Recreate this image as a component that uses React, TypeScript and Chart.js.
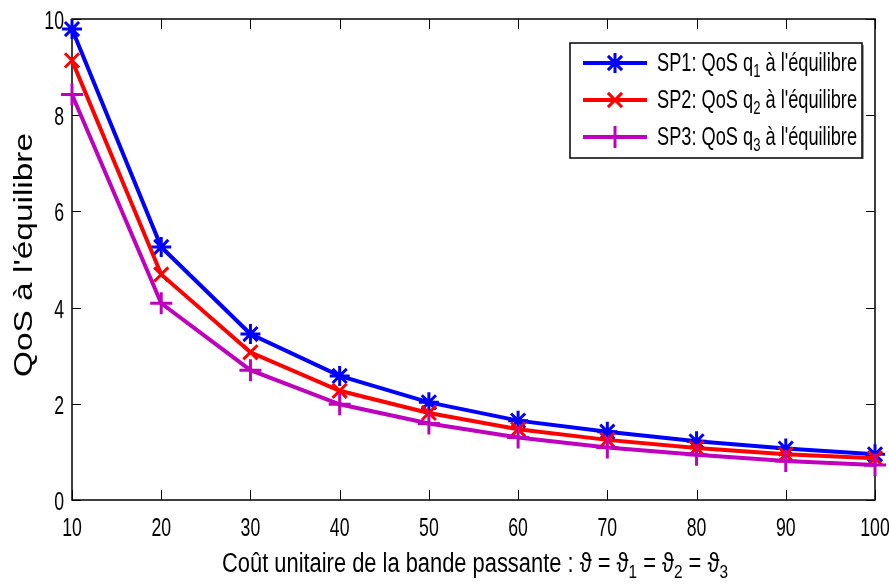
import React, { useEffect, useRef } from "react";
import { Chart, registerables } from "chart.js";

Chart.register(...registerables);

const costs = [10, 20, 30, 40, 50, 60, 70, 80, 90, 100];
const sp1 = [9.79, 5.26, 3.45, 2.58, 2.03, 1.65, 1.42, 1.22, 1.07, 0.95];
const sp2 = [9.14, 4.69, 3.07, 2.27, 1.81, 1.47, 1.25, 1.08, 0.95, 0.87];
const sp3 = [8.43, 4.09, 2.7, 1.99, 1.59, 1.3, 1.09, 0.94, 0.81, 0.73];
const xTicks = [10, 20, 30, 40, 50, 60, 70, 80, 90, 100];
const yTicks = [0, 2, 4, 6, 8, 10];
const seriesNames = ["SP1", "SP2", "SP3"];
const seriesSubs = ["1", "2", "3"];
const colors = ["#0000ff", "#ff0000", "#bf00bf"];
const styles = ["star", "crossRot", "cross"];

const FONT = '"Liberation Sans", Arial, sans-serif';

type Seg = { t: string; sub?: boolean };

function segWidth(ctx: CanvasRenderingContext2D, segs: Seg[], size: number) {
  let w = 0;
  for (const s of segs) {
    ctx.font = `${s.sub ? Math.round(size * 0.72) : size}px ${FONT}`;
    w += ctx.measureText(s.t).width;
  }
  return w;
}

function drawSegs(
  ctx: CanvasRenderingContext2D,
  segs: Seg[],
  x: number,
  y: number,
  size: number,
  sx: number
) {
  ctx.save();
  ctx.translate(x, y);
  ctx.scale(sx, 1);
  ctx.textAlign = "left";
  ctx.textBaseline = "alphabetic";
  let cx = 0;
  for (const s of segs) {
    const fs = s.sub ? Math.round(size * 0.72) : size;
    ctx.font = `${fs}px ${FONT}`;
    ctx.fillText(s.t, cx, s.sub ? size * 0.22 : 0);
    cx += ctx.measureText(s.t).width;
  }
  ctx.restore();
}

function drawMarker(ctx: CanvasRenderingContext2D, style: string, x: number, y: number, r: number) {
  ctx.beginPath();
  if (style === "cross" || style === "star") {
    ctx.moveTo(x - r, y);
    ctx.lineTo(x + r, y);
    ctx.moveTo(x, y - r);
    ctx.lineTo(x, y + r);
  }
  if (style === "crossRot" || style === "star") {
    const d = r * Math.SQRT1_2;
    ctx.moveTo(x - d, y - d);
    ctx.lineTo(x + d, y + d);
    ctx.moveTo(x - d, y + d);
    ctx.lineTo(x + d, y - d);
  }
  ctx.stroke();
}

const decorPlugin = {
  id: "decor",
  beforeDatasetsDraw(chart: any) {
    const ctx: CanvasRenderingContext2D = chart.ctx;
    const { left, right, top, bottom } = chart.chartArea;
    const xs = chart.scales.x;
    const ys = chart.scales.y;
    ctx.save();
    ctx.strokeStyle = "#000";
    ctx.lineWidth = 1.5;
    ctx.strokeRect(left, top, right - left, bottom - top);
    ctx.lineWidth = 1;
    ctx.beginPath();
    for (const v of xTicks) {
      const px = Math.round(xs.getPixelForValue(v)) + 0.5;
      ctx.moveTo(px, bottom);
      ctx.lineTo(px, bottom - 10);
      ctx.moveTo(px, top);
      ctx.lineTo(px, top + 10);
    }
    for (const v of yTicks) {
      const py = Math.round(ys.getPixelForValue(v)) + 0.5;
      ctx.moveTo(left, py);
      ctx.lineTo(left + 9, py);
      ctx.moveTo(right, py);
      ctx.lineTo(right - 9, py);
    }
    ctx.stroke();
    ctx.restore();
  },
  afterDraw(chart: any) {
    const ctx: CanvasRenderingContext2D = chart.ctx;
    const { left } = chart.chartArea;
    const xs = chart.scales.x;
    const ys = chart.scales.y;
    ctx.save();
    ctx.fillStyle = "#000";
    // tick labels
    const tsize = 26;
    const tsx = 0.68;
    ctx.font = `${tsize}px ${FONT}`;
    for (const v of xTicks) {
      const px = xs.getPixelForValue(v);
      ctx.save();
      ctx.translate(px, 536);
      ctx.scale(tsx, 1);
      ctx.textAlign = "center";
      ctx.textBaseline = "alphabetic";
      ctx.fillText(String(v), 0, 0);
      ctx.restore();
    }
    for (const v of yTicks) {
      const py = ys.getPixelForValue(v);
      ctx.save();
      ctx.translate(left - 8, py + 10);
      ctx.scale(tsx, 1);
      ctx.textAlign = "right";
      ctx.textBaseline = "alphabetic";
      ctx.fillText(String(v), 0, 0);
      ctx.restore();
    }
    // x title
    const th = "\u03D1";
    const xt: Seg[] = [
      { t: `Coût unitaire de la bande passante : ${th} = ${th}` },
      { t: "1", sub: true },
      { t: ` = ${th}` },
      { t: "2", sub: true },
      { t: ` = ${th}` },
      { t: "3", sub: true },
    ];
    const xsize = 27;
    const xw = segWidth(ctx, xt, xsize);
    const xsx = 506 / xw;
    drawSegs(ctx, xt, 222, 572, xsize, xsx);
    // y title
    ctx.save();
    ctx.translate(32, 255);
    ctx.rotate(-Math.PI / 2);
    ctx.font = `33px ${FONT}`;
    const yt = "QoS à l'équilibre";
    const yw = ctx.measureText(yt).width;
    ctx.scale(244 / yw, 0.8);
    ctx.textAlign = "center";
    ctx.textBaseline = "alphabetic";
    ctx.fillText(yt, 0, 0);
    ctx.restore();
    // legend
    const bx = 570, by = 43, bw = 292, bh = 115;
    ctx.fillStyle = "#fff";
    ctx.fillRect(bx, by, bw, bh);
    ctx.strokeStyle = "#999";
    ctx.lineWidth = 2;
    ctx.beginPath();
    ctx.moveTo(bx + bw + 1, by + 2);
    ctx.lineTo(bx + bw + 1, by + bh + 1);
    ctx.stroke();
    ctx.strokeStyle = "#000";
    ctx.lineWidth = 1.5;
    ctx.strokeRect(bx, by, bw, bh);
    const rows = [63, 100, 137];
    for (let i = 0; i < 3; i++) {
      const ry = rows[i];
      ctx.strokeStyle = colors[i];
      ctx.lineWidth = 4;
      ctx.beginPath();
      ctx.moveTo(583, ry);
      ctx.lineTo(647, ry);
      ctx.stroke();
      ctx.lineWidth = 3;
      drawMarker(ctx, styles[i], 615, ry, i === 2 ? 11 : 10);
      ctx.fillStyle = "#000";
      const segs: Seg[] = [
        { t: `${seriesNames[i]}: QoS q` },
        { t: seriesSubs[i], sub: true },
        { t: " à l'équilibre" },
      ];
      const lsize = 25;
      const lw = segWidth(ctx, segs, lsize);
      drawSegs(ctx, segs, 657, ry + 8, lsize, 200 / lw);
    }
    ctx.restore();
  },
};

export default function App() {
  const ref = useRef<HTMLCanvasElement | null>(null);
  useEffect(() => {
    if (!ref.current) return;
    const series = [sp1, sp2, sp3];
    const chart = new Chart(ref.current, {
      type: "line",
      data: {
        datasets: series.map((s, i) => ({
          label: `${seriesNames[i]}`,
          data: costs.map((c, j) => ({ x: c, y: s[j] })),
          borderColor: colors[i],
          backgroundColor: colors[i],
          borderWidth: 4,
          pointStyle: styles[i] as any,
          pointRadius: i === 2 ? 11 : 10,
          pointBorderWidth: 3,
          pointBorderColor: colors[i],
          pointBackgroundColor: colors[i],
          tension: 0,
          fill: false,
          clip: false as any,
          order: 3 - i,
        })),
      },
      options: {
        animation: false,
        responsive: false,
        maintainAspectRatio: false,
        events: [],
        layout: { padding: { top: 19, right: 13, left: 0, bottom: 0 } },
        plugins: { legend: { display: false }, tooltip: { enabled: false } },
        scales: {
          x: {
            type: "linear",
            min: 10,
            max: 100,
            grid: { display: false },
            border: { display: false },
            ticks: { display: false },
            afterFit(scale: any) {
              scale.height = 87;
            },
          },
          y: {
            type: "linear",
            min: 0,
            max: 10,
            grid: { display: false },
            border: { display: false },
            ticks: { display: false },
            afterFit(scale: any) {
              scale.width = 72;
            },
          },
        },
      },
      plugins: [decorPlugin],
    });
    return () => chart.destroy();
  }, []);
  return (
    <div style={{ position: "absolute", left: 0, top: 0, width: 889, height: 587, background: "#fff" }}>
      <canvas ref={ref} width={889} height={587} style={{ display: "block", width: 889, height: 587 }} />
    </div>
  );
}
